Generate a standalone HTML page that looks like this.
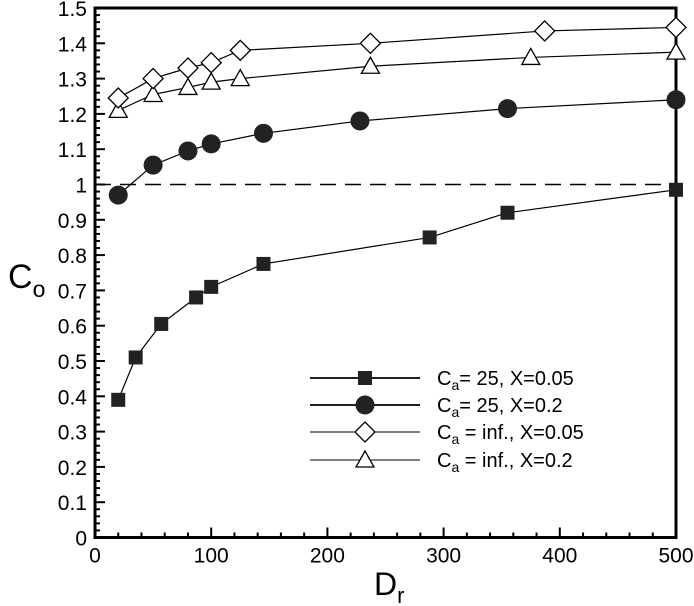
<!DOCTYPE html>
<html><head><meta charset="utf-8"><style>
html,body{margin:0;padding:0;background:#fff;}
svg{display:block;font-family:"Liberation Sans",Arial,sans-serif;}
</style></head><body>
<svg id="s" width="694" height="606" xmlns="http://www.w3.org/2000/svg"></svg>
<script>
const s=document.getElementById('s');
const X0=95,X1=676,Y0=537.5,Y1=8;
const fx=v=>X0+(X1-X0)*v/500, fy=v=>Y0-(Y0-Y1)*v/1.5;
let h='';
for(let v=0;v<=500;v+=20){const x=fx(v),M=v%100==0;h+=`<line x1="${x}" y1="${Y0}" x2="${x}" y2="${Y0-(M?10:5)}" stroke="#000" stroke-width="2"/>`;
 if(M)h+=`<text x="${x}" y="${Y0+25}" font-size="21" text-anchor="middle">${v}</text>`;}
for(let i=0;i<=75;i++){const v=i*0.02,y=fy(v),M=i%5==0;h+=`<line x1="${X0}" y1="${y}" x2="${X0+(M?10:5)}" y2="${y}" stroke="#000" stroke-width="2"/>`;
 if(M){let t=(i/50).toFixed(1);if(t=='0.0')t='0';if(t=='1.0')t='1';h+=`<text x="${X0-8}" y="${y+8}" font-size="21" text-anchor="end">${t}</text>`;}}
h+=`<rect x="${X0}" y="${Y1}" width="${X1-X0}" height="${Y0-Y1}" fill="none" stroke="#000" stroke-width="3"/>`;
h+=`<line x1="${X0}" y1="${fy(1)}" x2="${X1}" y2="${fy(1)}" stroke="#000" stroke-width="1.5" stroke-dasharray="16,9"/>`;
const sq=[[20,.39],[35,.51],[57,.605],[87,.68],[100,.71],[145,.775],[288,.85],[355,.92],[500,.985]];
const ci=[[20,.97],[50,1.055],[80,1.095],[100,1.115],[145,1.145],[228,1.18],[355,1.215],[500,1.24]];
const di=[[20,1.245],[50,1.3],[80,1.33],[100,1.345],[125,1.38],[237,1.4],[387,1.435],[500,1.445]];
const tr=[[20,1.21],[50,1.255],[80,1.275],[100,1.29],[125,1.3],[237,1.335],[375,1.36],[500,1.375]];
function mk(t,x,y){
 if(t=='s')return `<rect x="${x-7}" y="${y-7}" width="14" height="14" fill="#222"/>`;
 if(t=='c')return `<circle cx="${x}" cy="${y}" r="9.5" fill="#222"/>`;
 if(t=='d')return `<polygon points="${x},${y-10} ${x+10},${y} ${x},${y+10} ${x-10},${y}" fill="#fff" stroke="#000" stroke-width="1.3"/>`;
 return `<polygon points="${x},${y-9} ${x+9},${y+7} ${x-9},${y+7}" fill="#fff" stroke="#000" stroke-width="1.3"/>`;}
function ser(d,t){h+=`<polyline fill="none" stroke="#000" stroke-width="1.2" points="${d.map(p=>fx(p[0])+','+fy(p[1])).join(' ')}"/>`;
 d.forEach(p=>h+=mk(t,fx(p[0]),fy(p[1])));}
ser(tr,'t');ser(di,'d');ser(ci,'c');ser(sq,'s');
const L=[['s','25, X=0.05',378],['c','25, X=0.2',405],['d','inf., X=0.05',432],['t','inf., X=0.2',460]];
L.forEach(([t,txt,y],i)=>{h+=`<line x1="310" y1="${y}" x2="420" y2="${y}" stroke="#000" stroke-width="${i<2?1.8:1}"/>`+mk(t,365,y);
 h+=`<text x="437" y="${y+7}" font-size="20">C<tspan font-size="14" dy="5">a</tspan><tspan dy="-5">${txt.startsWith('inf')?' ':''}= ${txt}</tspan></text>`;});
h+=`<text x="8" y="288" font-size="34">C<tspan font-size="23" dy="9">o</tspan></text>`;
h+=`<text x="374" y="595" font-size="32">D<tspan font-size="22" dy="8">r</tspan></text>`;
s.innerHTML=h;
</script>
</body></html>
